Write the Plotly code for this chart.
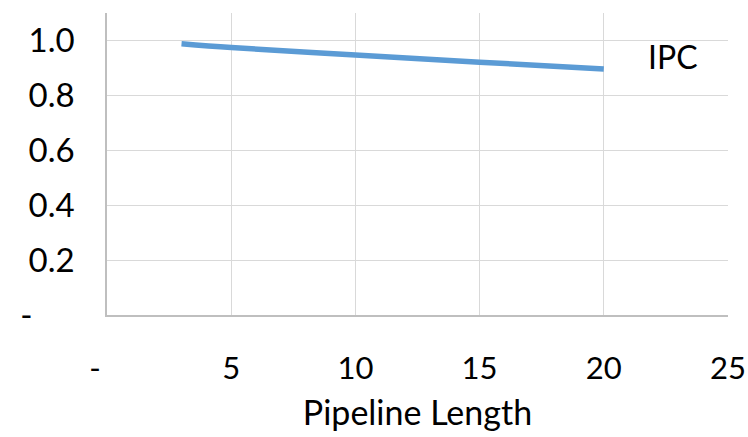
import plotly.graph_objects as go

pipeline_length = [3, 5, 10, 15, 20]
ipc = [0.988, 0.974, 0.947, 0.921, 0.896]
series_name = "IPC"

x_tickvals = [0, 5, 10, 15, 20, 25]
x_ticktext = ["-\u00a0\u00a0\u00a0", "5", "10", "15", "20", "25"]
y_tickvals = [0, 0.2, 0.4, 0.6, 0.8, 1.0]
y_ticktext = ["-\u00a0\u00a0\u00a0\u00a0\u00a0", "0.2", "0.4", "0.6", "0.8", "1.0"]

FONT = "Lato, 'Open Sans', sans-serif"
FS = 34
TFS = 31

fig = go.Figure()
fig.add_trace(go.Scatter(
    x=pipeline_length, y=ipc, mode="lines", name=series_name,
    line=dict(color="#5B9BD5", width=5.5, shape="spline"),
    showlegend=False,
))

fig.add_annotation(
    x=21.7, y=ipc[-1] + 0.045, xref="x", yref="y",
    text=series_name, showarrow=False, xanchor="left", yanchor="middle",
    font=dict(family=FONT, size=FS - 2, color="#000000"),
)

fig.update_layout(
    width=748, height=437,
    margin=dict(l=107, r=20, t=13, b=122, autoexpand=False),
    paper_bgcolor="white", plot_bgcolor="white",
    font=dict(family=FONT, size=FS, color="#000000"),
)
fig.update_xaxes(
    range=[0, 25], tickvals=x_tickvals, ticktext=x_ticktext,
    tickfont=dict(family=FONT, size=TFS, color="#000000"),
    showgrid=True, gridcolor="#D9D9D9", gridwidth=1.3,
    showline=True, linecolor="#BFBFBF", linewidth=1.5,
    zeroline=False, ticks="", ticklabelstandoff=25, automargin=False,
    ticklabeloverflow="allow",
    title=dict(text="Pipeline Length", standoff=16,
               font=dict(family=FONT, size=FS, color="#000000")),
)
fig.update_yaxes(
    range=[0, 1.1], tickvals=y_tickvals, ticktext=y_ticktext,
    tickfont=dict(family=FONT, size=FS - 1, color="#000000"),
    showgrid=True, gridcolor="#D9D9D9", gridwidth=1.3,
    showline=True, linecolor="#BFBFBF", linewidth=1.5,
    zeroline=False, ticks="", ticklabelstandoff=24, automargin=False,
    ticklabeloverflow="allow",
)

fig.write_html("out.html")
